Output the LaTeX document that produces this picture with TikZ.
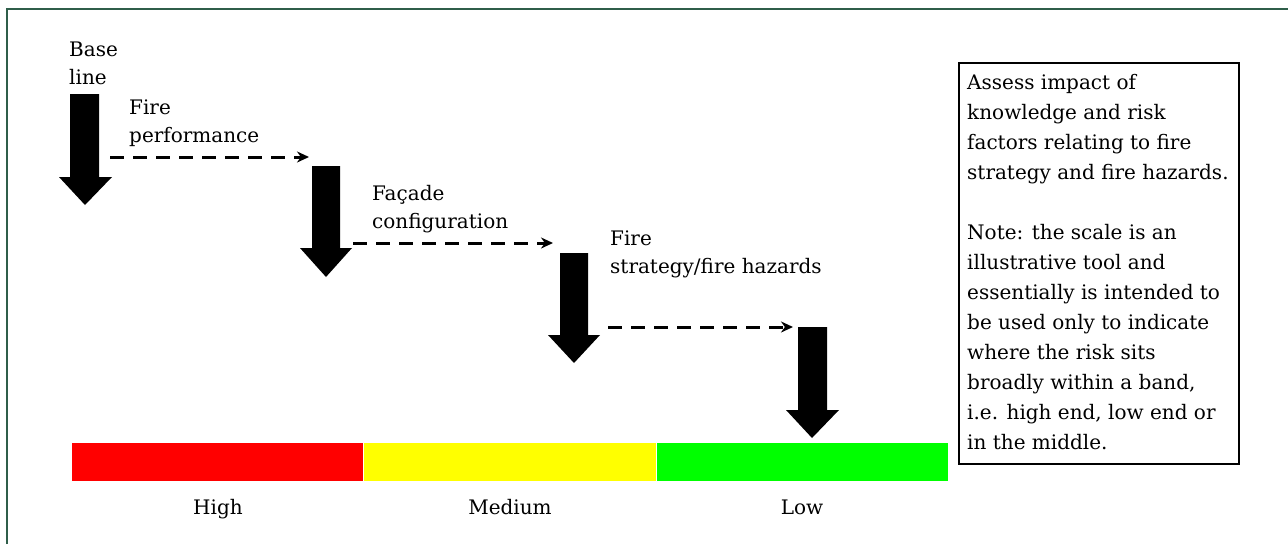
\documentclass[tikz,border=0pt]{standalone}
\usepackage{fontspec}
\setmainfont{DejaVu Serif}
\usetikzlibrary{arrows.meta}
\definecolor{framegreen}{RGB}{47,94,74}
\definecolor{bandred}{RGB}{255,0,0}
\definecolor{bandyellow}{RGB}{255,255,0}
\definecolor{bandgreen}{RGB}{0,255,0}
\tikzset{
  lbl/.style={anchor=north west, inner sep=0pt, align=left, font=\fontsize{20}{28}\selectfont},
  scalelbl/.style={anchor=base, inner sep=0pt, font=\fontsize{20}{28}\selectfont},
  blockarrow/.style={fill=black},
  flow/.style={draw=black, line width=3pt, dash pattern=on 14pt off 9pt, -{Stealth[length=12pt,width=11pt]}},
}
\begin{document}
\begin{tikzpicture}[x=1pt,y=-1pt]
\useasboundingbox (0,0) rectangle (1288,544);
% frame
\draw[framegreen, line width=2pt] (7,544) -- (7,9) -- (1288,9);
% block arrows
\fill[blockarrow] (70,94) -- (99,94) -- (99,177) -- (112,177) -- (85,205) -- (59,177) -- (70,177) -- cycle;
\fill[blockarrow] (312,166) -- (340,166) -- (340,248) -- (352,248) -- (326,277) -- (300,248) -- (312,248) -- cycle;
\fill[blockarrow] (560,253) -- (588,253) -- (588,335) -- (600,335) -- (574,363) -- (548,335) -- (560,335) -- cycle;
\fill[blockarrow] (798,327) -- (827,327) -- (827,410) -- (839,410) -- (812,438) -- (786,410) -- (798,410) -- cycle;
% connector ends
\coordinate (a1) at (110,157);
\coordinate (b2) at (309,157);
\coordinate (a2) at (353,243);
\coordinate (b3) at (553,243);
\coordinate (a3) at (608,327);
\coordinate (b4) at (793,327);
\draw[flow] (a1) -- (b2);
\draw[flow] (a2) -- (b3);
\draw[flow] (a3) -- (b4);
% labels
\node[lbl] (base) at (69,42) {Base\\line};
\node[lbl] (perf) at (129,100) {Fire\\performance};
\node[lbl] (facade) at (372,185) {Façade\\configuration};
\node[lbl] (strat) at (610,231) {Fire\\strategy/fire hazards};
% scale bar
\fill[bandred] (72,443) rectangle (363,481);
\fill[bandyellow] (364,443) rectangle (656,481);
\fill[bandgreen] (657,443) rectangle (948,481);
\node[scalelbl] (high) at (218,514) {High};
\node[scalelbl] (med) at (510,514) {Medium};
\node[scalelbl] (low) at (802,514) {Low};
% note box
\node[draw=black, line width=1.6pt, minimum width=280pt, minimum height=401pt, anchor=north west, inner sep=0pt] (box) at (958,62) {};
\node[anchor=north west, inner sep=0pt, align=left, font=\fontsize{20}{30}\selectfont] (note) at ([shift={(9,12)}]box.north west)
{Assess impact of\\knowledge and risk\\factors relating to fire\\strategy and fire hazards.\\[30pt]Note: the scale is an\\illustrative tool and\\essentially is intended to\\be used only to indicate\\where the risk sits\\broadly within a band,\\i.e. high end, low end or\\in the middle.};
\end{tikzpicture}
\end{document}
